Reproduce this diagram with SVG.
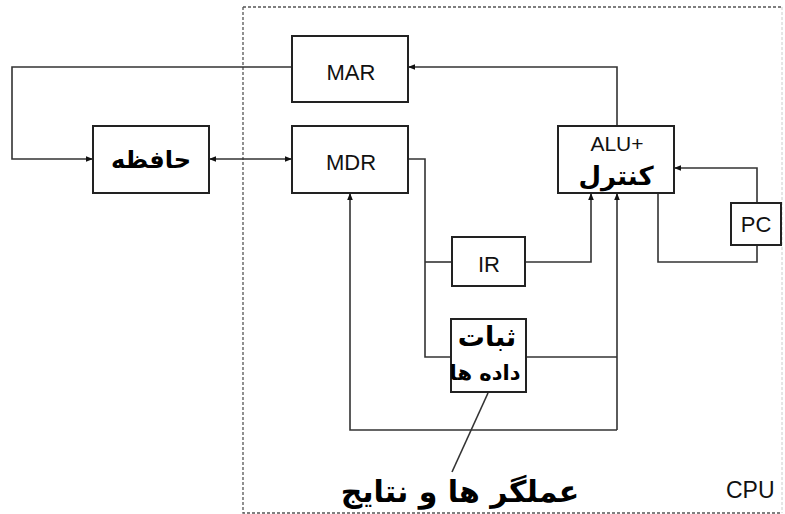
<svg xmlns="http://www.w3.org/2000/svg" width="785" height="514" viewBox="0 0 785 514">
<style>
.box{fill:#fff;stroke:#222;stroke-width:2}
.ln{fill:none;stroke:#333;stroke-width:1.6}
.lat{font-family:"Liberation Sans",Arial,sans-serif;fill:#111;font-size:22px}
.fa{font-family:"DejaVu Sans","Noto Sans",sans-serif;font-weight:bold;fill:#000}
.frame{fill:none;stroke:#555;stroke-width:1.3;stroke-dasharray:3 2}
</style>
<defs>
<marker id="ah" viewBox="0 0 10 10" refX="10" refY="5" markerWidth="7" markerHeight="7" orient="auto-start-reverse" markerUnits="userSpaceOnUse">
<path d="M0,1 L10,5 L0,9 z" fill="#111"/>
</marker>
</defs>
<rect width="785" height="514" fill="#fff"/>
<g id="cpu-frame">
<path class="frame" d="M243,7 H782"/>
<path class="frame" d="M243,7 V513 H782"/>
<path d="M782,7 V513" fill="none" stroke="#ccc" stroke-width="1" stroke-dasharray="3 2"/>
<text class="lat" x="726" y="498" style="font-size:23px">CPU</text>
</g>
<g id="connectors">
<path class="ln" d="M292,67 H12 V159 H93" marker-end="url(#ah)"/>
<path class="ln" d="M209,159 H292" marker-start="url(#ah)" marker-end="url(#ah)"/>
<path class="ln" d="M617,126 V67 H408" marker-end="url(#ah)"/>
<path class="ln" d="M757,203 V168 H674" marker-end="url(#ah)"/>
<path class="ln" d="M658,193 V262 H757 V245"/>
<path class="ln" d="M525,262 H591 V193" marker-end="url(#ah)"/>
<path class="ln" d="M408,159 H425 V357 H451"/>
<path class="ln" d="M425,262 H452"/>
<path class="ln" d="M526,357 H617"/>
<path class="ln" d="M617,430 V193" marker-end="url(#ah)"/>
<path class="ln" d="M617,430 H350 V193" marker-end="url(#ah)"/>
<path class="ln" d="M488,393 L452,472" stroke-width="1.2"/>
</g>
<g id="mar">
<rect class="box" x="292" y="36" width="116" height="66"/>
<text class="lat" x="351" y="80" text-anchor="middle">MAR</text>
</g>
<g id="memory">
<rect class="box" x="93" y="126" width="116" height="67"/>
<text class="fa" x="151" y="168" font-size="24" text-anchor="middle" direction="rtl">حافظه</text>
</g>
<g id="mdr">
<rect class="box" x="292" y="126" width="116" height="67"/>
<text class="lat" x="351" y="170" text-anchor="middle">MDR</text>
</g>
<g id="alu">
<rect class="box" x="558" y="126" width="116" height="67"/>
<text class="lat" x="617" y="151" text-anchor="middle" style="font-size:21px">ALU+</text>
<text class="fa" x="616" y="185" font-size="26" text-anchor="middle" direction="rtl">کنترل</text>
</g>
<g id="pc">
<rect class="box" x="731" y="203" width="50" height="42"/>
<text class="lat" x="756" y="232" text-anchor="middle">PC</text>
</g>
<g id="ir">
<rect class="box" x="452" y="237" width="73" height="49"/>
<text class="lat" x="489" y="272" text-anchor="middle">IR</text>
</g>
<g id="registers">
<rect class="box" x="451" y="319" width="75" height="73"/>
<text class="fa" x="487" y="346" font-size="27" text-anchor="middle" direction="rtl">ثبات</text>
<text class="fa" x="485" y="380" font-size="21" text-anchor="middle" direction="rtl">داده ها</text>
</g>
<g id="label-operands">
<text class="fa" x="460" y="502" font-size="30" text-anchor="middle" direction="rtl">عملگر ها و نتایج</text>
</g>
</svg>
